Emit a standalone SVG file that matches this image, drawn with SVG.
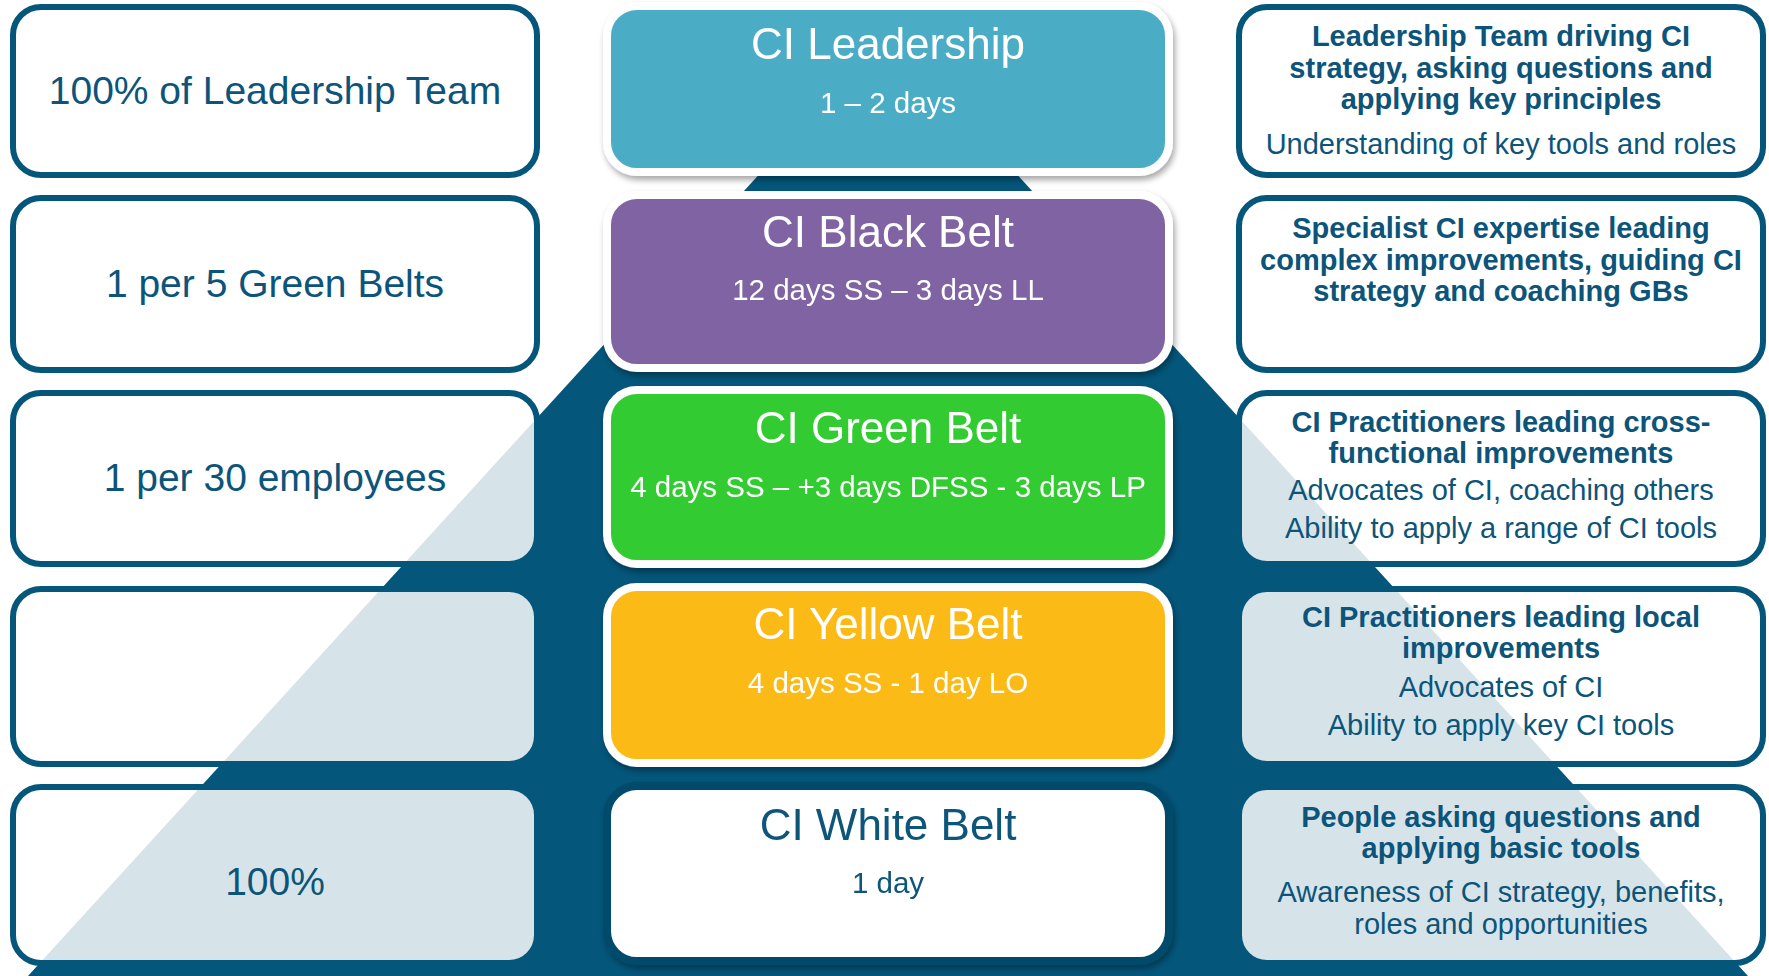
<svg xmlns="http://www.w3.org/2000/svg" width="1769" height="976" viewBox="0 0 1769 976">
<defs>
<style>
text{font-family:"Liberation Sans",Arial,sans-serif;text-anchor:middle}
.side{fill:#ffffff;fill-opacity:0.84;stroke:#04567b;stroke-width:6}
.belt{stroke:#ffffff;stroke-width:8}
.lt{font-size:39px;fill:#0c5479}
.ttl{font-size:44px;fill:#ffffff}
.sub{font-size:29.5px;fill:#ffffff}
.hd{font-size:29px;font-weight:bold;fill:#0c5479}
.rg{font-size:29px;fill:#0c5479}
</style>
<filter id="sh" x="-10%" y="-10%" width="120%" height="130%">
<feGaussianBlur in="SourceAlpha" stdDeviation="3"/>
<feOffset dx="2" dy="4" result="b"/>
<feComponentTransfer><feFuncA type="linear" slope="0.35"/></feComponentTransfer>
<feMerge><feMergeNode/><feMergeNode in="SourceGraphic"/></feMerge>
</filter>
</defs>
<rect width="1769" height="976" fill="#ffffff"/>
<g id="pyramid">
<polygon points="888,33 1748,976 28,976" fill="#04567b"/>
</g>
<g id="connectors"/>
<g id="ci-leadership" filter="url(#sh)">
<rect class="belt" x="607" y="6" width="562" height="166" rx="30" fill="#4bacc6"/>
<text class="ttl" x="888" y="59">CI Leadership</text>
<text class="sub" x="888" y="113">1 – 2 days</text>
</g>
<g id="ci-black-belt" filter="url(#sh)">
<rect class="belt" x="607" y="195" width="562" height="173" rx="30" fill="#8064a2"/>
<text class="ttl" x="888" y="247">CI Black Belt</text>
<text class="sub" x="888" y="300">12 days SS – 3 days LL</text>
</g>
<g id="ci-green-belt" filter="url(#sh)">
<rect class="belt" x="607" y="390" width="562" height="174" rx="30" fill="#33cc33"/>
<text class="ttl" x="888" y="443">CI Green Belt</text>
<text class="sub" x="888" y="497">4 days SS – +3 days DFSS - 3 days LP</text>
</g>
<g id="ci-yellow-belt" filter="url(#sh)">
<rect class="belt" x="607" y="587" width="562" height="176" rx="30" fill="#fbba16"/>
<text class="ttl" x="888" y="639">CI Yellow Belt</text>
<text class="sub" x="888" y="693">4 days SS - 1 day LO</text>
</g>
<g id="ci-white-belt" filter="url(#sh)">
<rect x="607" y="786" width="562" height="175" rx="30" fill="#ffffff" stroke="#034b6c" stroke-width="8"/>
<text class="ttl" x="888" y="840" style="fill:#0c5479">CI White Belt</text>
<text class="sub" x="888" y="893" style="fill:#0c5479">1 day</text>
</g>
<g id="left-1">
<rect class="side" x="13" y="7" width="524" height="168" rx="28"/>
<text class="lt" x="275" y="104">100% of Leadership Team</text>
</g>
<g id="left-2">
<rect class="side" x="13" y="198" width="524" height="172" rx="28"/>
<text class="lt" x="275" y="297">1 per 5 Green Belts</text>
</g>
<g id="left-3">
<rect class="side" x="13" y="393" width="524" height="171" rx="28"/>
<text class="lt" x="275" y="491">1 per 30 employees</text>
</g>
<g id="left-4">
<rect class="side" x="13" y="589" width="524" height="175" rx="28"/>
</g>
<g id="left-5">
<rect class="side" x="13" y="787" width="524" height="176" rx="28"/>
<text class="lt" x="275" y="895">100%</text>
</g>
<g id="right-1">
<rect class="side" x="1239" y="7" width="524" height="168" rx="28"/>
<text class="hd" x="1501" y="46">Leadership Team driving CI</text>
<text class="hd" x="1501" y="77.5">strategy, asking questions and</text>
<text class="hd" x="1501" y="109">applying key principles</text>
<text class="rg" x="1501" y="154">Understanding of key tools and roles</text>
</g>
<g id="right-2">
<rect class="side" x="1239" y="198" width="524" height="172" rx="28"/>
<text class="hd" x="1501" y="238">Specialist CI expertise leading</text>
<text class="hd" x="1501" y="269.5">complex improvements, guiding CI</text>
<text class="hd" x="1501" y="301">strategy and coaching GBs</text>
</g>
<g id="right-3">
<rect class="side" x="1239" y="393" width="524" height="171" rx="28"/>
<text class="hd" x="1501" y="432">CI Practitioners leading cross-</text>
<text class="hd" x="1501" y="463">functional improvements</text>
<text class="rg" x="1501" y="500">Advocates of CI, coaching others</text>
<text class="rg" x="1501" y="538">Ability to apply a range of CI tools</text>
</g>
<g id="right-4">
<rect class="side" x="1239" y="589" width="524" height="175" rx="28"/>
<text class="hd" x="1501" y="627">CI Practitioners leading local</text>
<text class="hd" x="1501" y="658">improvements</text>
<text class="rg" x="1501" y="697">Advocates of CI</text>
<text class="rg" x="1501" y="735">Ability to apply key CI tools</text>
</g>
<g id="right-5">
<rect class="side" x="1239" y="787" width="524" height="176" rx="28"/>
<text class="hd" x="1501" y="827">People asking questions and</text>
<text class="hd" x="1501" y="858">applying basic tools</text>
<text class="rg" x="1501" y="902">Awareness of CI strategy, benefits,</text>
<text class="rg" x="1501" y="934">roles and opportunities</text>
</g>
</svg>
